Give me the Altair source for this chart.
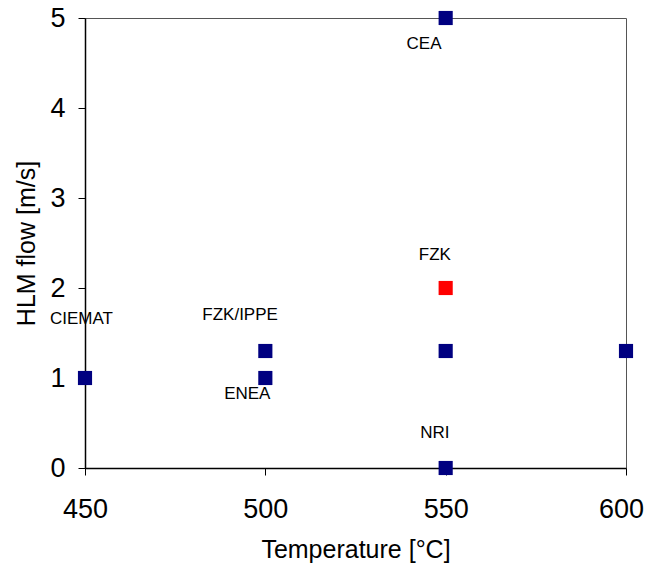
import altair as alt
import pandas as pd

temps = [450, 500, 500, 550, 550, 550, 550, 600]
flows = [1.0, 1.3, 1.0, 5.0, 2.0, 1.3, 0.0, 1.3]
groups = ["other", "other", "other", "other", "FZK", "other", "other", "other"]

label_text = ["CEA", "FZK", "FZK/IPPE", "CIEMAT", "ENEA", "NRI"]
label_x = [544, 547, 493, 449, 495, 547]
label_y = [4.71, 2.37, 1.70, 1.66, 0.82, 0.39]

pts = pd.DataFrame({"t": temps, "f": flows, "g": groups})
labs = pd.DataFrame({"t": label_x, "f": label_y, "txt": label_text})

xs = alt.Scale(domain=[450, 600], nice=False, zero=False)
ys = alt.Scale(domain=[0, 5], nice=False)

points = alt.Chart(pts).mark_square(size=200, opacity=1).encode(
    x=alt.X("t:Q", scale=xs, title="Temperature [°C]",
            axis=alt.Axis(values=[450, 500, 550, 600], grid=False, tickSize=7, format="d",
                          labelFlush=False, labelPadding=21, titlePadding=15,
                          labelOffset=alt.ExprRef(expr="datum.value == 600 ? -5 : 0"))),
    y=alt.Y("f:Q", scale=ys, title="HLM flow [m/s]",
            axis=alt.Axis(values=[0, 1, 2, 3, 4, 5], grid=False, tickSize=7, format="d",
                          labelFlush=False, labelPadding=13, titlePadding=10)),
    color=alt.Color("g:N", scale=alt.Scale(domain=["other", "FZK"], range=["#000080", "#FF0000"]),
                    legend=None),
)

texts = alt.Chart(labs).mark_text(font="Liberation Sans", fontSize=17, color="#000000",
                                  align="center", baseline="middle").encode(
    x=alt.X("t:Q", scale=xs),
    y=alt.Y("f:Q", scale=ys),
    text="txt:N",
)

chart = alt.layer(points, texts).properties(
    width=541, height=450,
    background="white",
    autosize=alt.AutoSizeParams(type="none"),
    padding={"left": 77, "top": 10, "right": 18, "bottom": 95},
).configure_view(
    stroke="#555555", strokeWidth=1
).configure_axis(
    domainColor="#000000", tickColor="#000000", domainWidth=1.5,
    labelFont="Liberation Sans", labelFontSize=27, labelColor="#000000",
    titleFont="Liberation Sans", titleFontSize=25, titleFontWeight="normal", titleColor="#000000",
)

chart.save("out.html", embed_options={"renderer": "svg", "actions": False})
